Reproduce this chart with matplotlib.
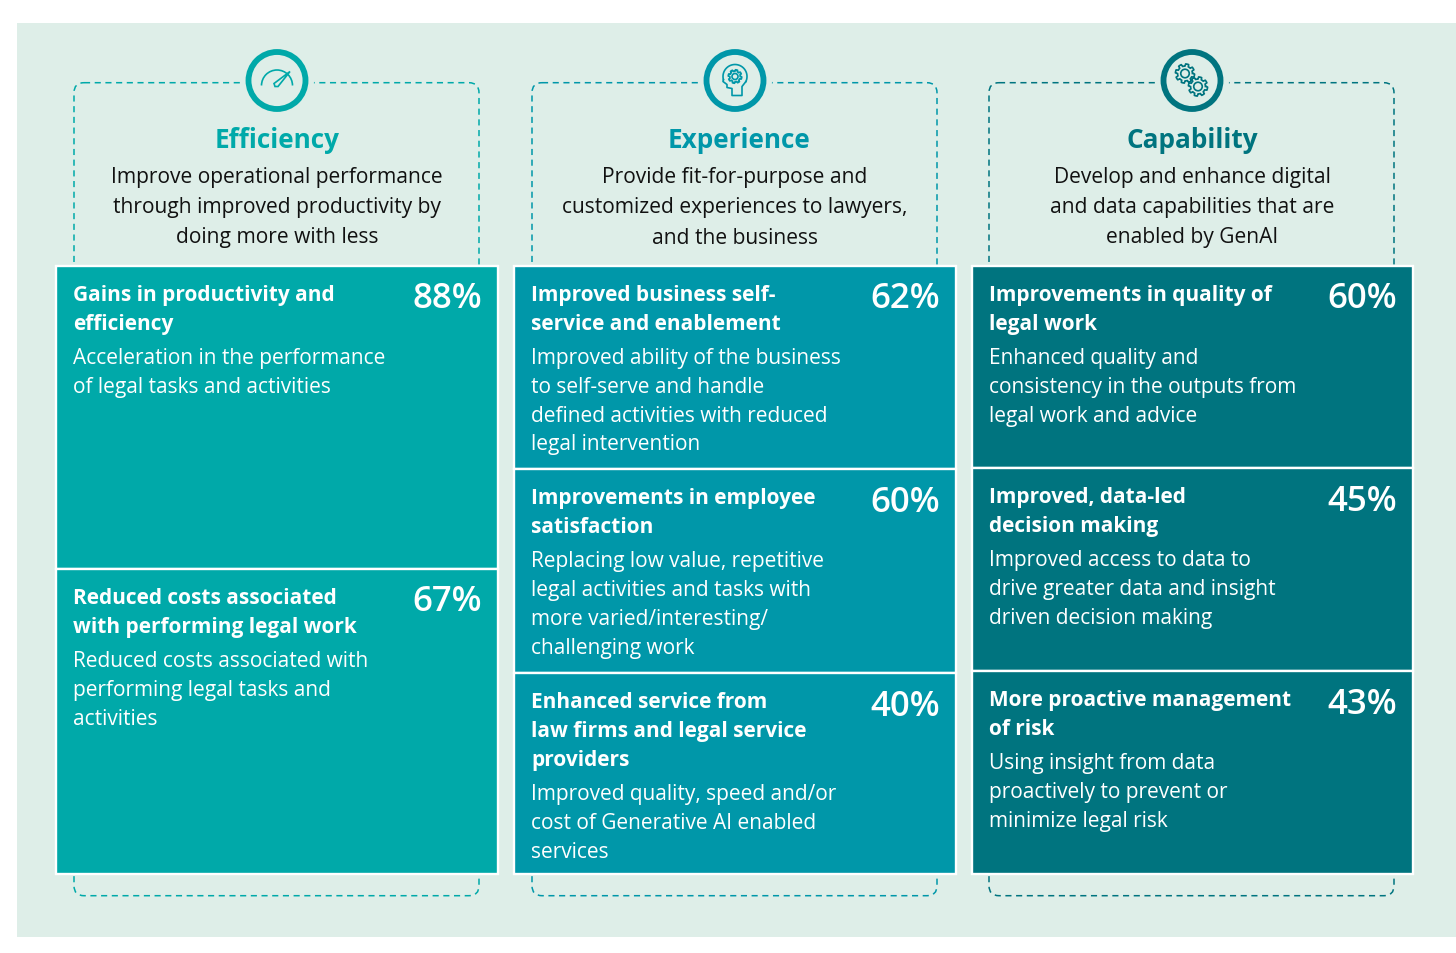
import numpy as np
import matplotlib.pyplot as plt
from matplotlib.patches import Rectangle, Circle, FancyBboxPatch, Polygon, Arc

plt.rcParams['font.family'] = ['Open Sans', 'DejaVu Sans']

pillars = ["Efficiency", "Experience", "Capability"]
pillar_text = [
    ["Improve operational performance", "through improved productivity by", "doing more with less"],
    ["Provide fit-for-purpose and", "customized experiences to lawyers,", "and the business"],
    ["Develop and enhance digital", "and data capabilities that are", "enabled by GenAI"],
]
pcts = [[88, 67], [62, 60, 40], [60, 45, 43]]
titles = [
    [["Gains in productivity and", "efficiency"],
     ["Reduced costs associated", "with performing legal work"]],
    [["Improved business self-", "service and enablement"],
     ["Improvements in employee", "satisfaction"],
     ["Enhanced service from", "law firms and legal service", "providers"]],
    [["Improvements in quality of", "legal work"],
     ["Improved, data-led", "decision making"],
     ["More proactive management", "of risk"]],
]
descs = [
    [["Acceleration in the performance", "of legal tasks and activities"],
     ["Reduced costs associated with", "performing legal tasks and", "activities"]],
    [["Improved ability of the business", "to self-serve and handle", "defined activities with reduced", "legal intervention"],
     ["Replacing low value, repetitive", "legal activities and tasks with", "more varied/interesting/", "challenging work"],
     ["Improved quality, speed and/or", "cost of Generative AI enabled", "services"]],
    [["Enhanced quality and", "consistency in the outputs from", "legal work and advice"],
     ["Improved access to data to", "drive greater data and insight", "driven decision making"],
     ["Using insight from data", "proactively to prevent or", "minimize legal risk"]],
]
colors = ['#00A9A9', '#0097A9', '#00747F']
bg = '#DEEEE8'

card_x = [(56, 497.5), (514, 955.5), (972, 1412.5)]
card_y = [[(266.5, 569.5), (569.5, 875)], [(266.5, 470), (470, 674), (674, 875)], [(266.5, 469), (469, 672), (672, 875)]]
box_x = [(74, 479), (532, 937), (989, 1394)]
icon_x = [277, 735, 1192]
head_x = [277, 739, 1192]
sub_x = [277, 735, 1192]
sub_y = [183.5, 183.5, 183]

fig = plt.figure(figsize=(14.56, 9.54), dpi=100)
ax = fig.add_axes([0, 0, 1, 1])
ax.set_xlim(0, 1456)
ax.set_ylim(954, 0)
ax.axis('off')

ax.add_patch(Rectangle((17, 23.5), 1439, 914, fc=bg, ec='none', zorder=0))


def gear(cx, cy, r, c):
    t = np.linspace(0, 2 * np.pi, 97)
    rr = r * (1 + 0.13 * np.sign(np.sin(8 * t)))
    ax.plot(cx + rr * np.cos(t), cy + rr * np.sin(t), color=c, lw=1.2, zorder=6)
    ax.add_patch(Circle((cx, cy), r * 0.5, fc='none', ec=c, lw=1.2, zorder=6))


def draw_icon(i, cx, cy, c):
    if i == 0:
        ax.add_patch(Arc((cx, cy + 5), 31, 31, theta1=180, theta2=360, color=c, lw=1.2, zorder=6))
        ax.add_patch(Polygon([[cx - 3, cy + 3], [cx + 13, cy - 9], [cx + 1, cy + 6], [cx - 2, cy + 6]],
                             closed=True, fc='none', ec=c, lw=1.2, zorder=6))
    elif i == 1:
        t = np.radians(np.linspace(165, 385, 40))
        hx = cx + 12 * np.cos(t)
        hy = cy - 4 + 12 * np.sin(t)
        ax.plot(hx, hy, color=c, lw=1.2, zorder=6)
        ax.plot([hx[0], cx - 12, cx - 8, cx - 8, cx - 3, cx - 3, cx + 7, cx + 7, hx[-1]],
                [hy[0], cy + 1, cy + 4, cy + 7, cy + 8, cy + 15, cy + 15, cy + 6, hy[-1]], color=c, lw=1.2, zorder=6)
        gear(cx, cy - 4, 6, c)
    else:
        gear(cx - 7, cy - 7, 8.5, c)
        gear(cx + 6, cy + 6, 8.5, c)


for i in range(3):
    c = colors[i]
    x0, x1 = box_x[i]
    ax.add_patch(FancyBboxPatch((x0 + 10, 93.7), x1 - x0 - 20, 793, boxstyle='round,pad=10,rounding_size=10',
                                fc='none', ec=c, lw=1.1, ls=(0, (4, 3)), zorder=1))
    ax.add_patch(Circle((icon_x[i], 81.5), 37, fc=bg, ec='none', zorder=2))
    ax.add_patch(Circle((icon_x[i], 81.5), 28.5, fc=bg, ec=c, lw=4.2, zorder=3))
    draw_icon(i, icon_x[i], 81.5, c)

    ax.text(head_x[i], 148.5, pillars[i], color=c, fontsize=18.8, fontweight='bold', ha='center', va='baseline', zorder=5)
    for k, line in enumerate(pillar_text[i]):
        ax.text(sub_x[i], sub_y[i] + 30 * k, line, color='#111111', fontsize=15.1, ha='center', va='baseline', zorder=5)

    for j, pct in enumerate(pcts[i]):
        top, bot = card_y[i][j]
        lx, rx = card_x[i]
        ax.add_patch(Rectangle((lx, top), rx - lx, bot - top, fc=c, ec='white', lw=1.7, zorder=4))
        tx = lx + 17
        y = top + 34.5
        for line in titles[i][j]:
            ax.text(tx, y, line, color='white', fontsize=15.05, fontweight='bold', va='baseline', zorder=5)
            y += 29
        y += 5
        for line in descs[i][j]:
            ax.text(tx, y, line, color='white', fontsize=15.05, va='baseline', zorder=5)
            y += 28.8
        ax.text(rx - 15.5, top + 42, f"{pct}%", color='white', fontsize=25, fontweight='semibold', ha='right', va='baseline', zorder=5)

fig.savefig('out.png', dpi=100)
